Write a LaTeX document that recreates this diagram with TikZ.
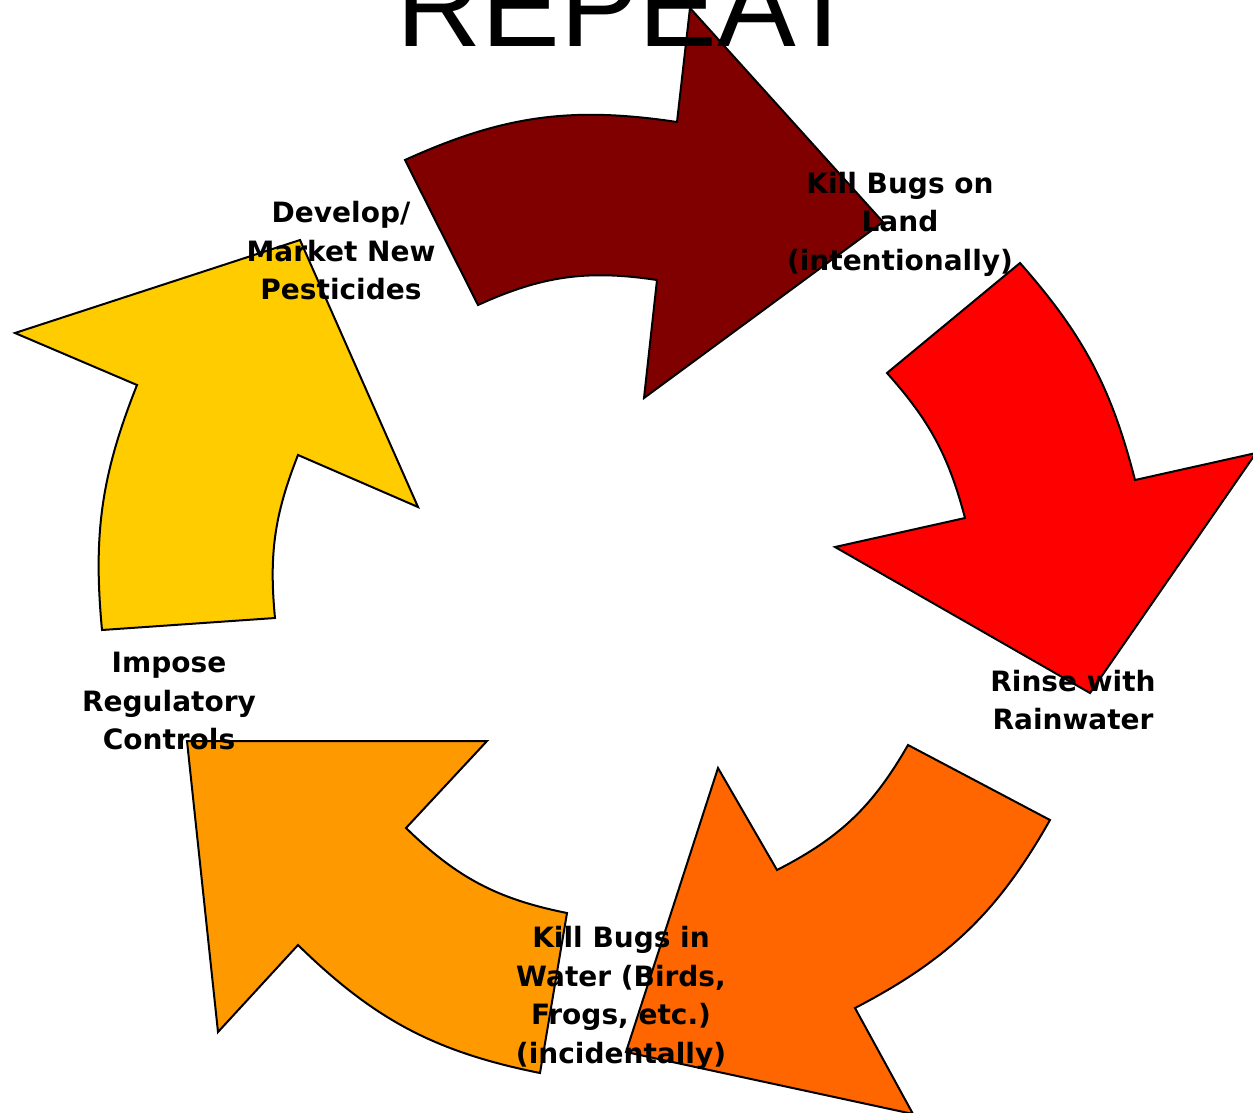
\documentclass[tikz,border=0pt]{standalone}
\usepackage{fontspec}
\setmainfont{DejaVu Sans}
\newfontfamily\titlefont{Liberation Sans}

\definecolor{landfill}{HTML}{800000}
\definecolor{rinsefill}{HTML}{FF0000}
\definecolor{waterfill}{HTML}{FF6600}
\definecolor{imposefill}{HTML}{FF9900}
\definecolor{developfill}{HTML}{FFCC00}

\begin{document}
\begin{tikzpicture}[x=1pt, y=1pt,
    cyclearrow/.style={draw=black, line width=2pt, line join=miter},
    steplabel/.style={font=\bfseries\fontsize{28}{38.5}\selectfont, align=center, inner sep=0pt}]
    \useasboundingbox (0,0) rectangle (1253,-1112);

    % arrow 1: kill bugs on land
    \coordinate (Lto) at (405,-160);
    \coordinate (Lbo) at (677,-122);
    \coordinate (Lwo) at (690,-8);
    \coordinate (Ltip) at (883,-222);
    \coordinate (Lwi) at (644,-398);
    \coordinate (Lbi) at (657,-280);
    \coordinate (Lti) at (478,-305);

    % arrow 2: rinse
    \coordinate (Rto) at (1020,-263);
    \coordinate (Rbo) at (1135,-480);
    \coordinate (Rwo) at (1256,-453);
    \coordinate (Rtip) at (1090,-693);
    \coordinate (Rwi) at (835,-547);
    \coordinate (Rbi) at (965,-518);
    \coordinate (Rti) at (887,-373);

    % arrow 3: kill bugs in water
    \coordinate (Wto) at (1050,-820);
    \coordinate (Wbo) at (855,-1008);
    \coordinate (Wwo) at (913,-1114);
    \coordinate (Wtip) at (626,-1052);
    \coordinate (Wwi) at (718,-768);
    \coordinate (Wbi) at (777,-870);
    \coordinate (Wti) at (908,-745);

    % arrow 4: regulate
    \coordinate (Ito) at (540,-1073);
    \coordinate (Ibo) at (298,-945);
    \coordinate (Iwo) at (218,-1032);
    \coordinate (Itip) at (187,-741);
    \coordinate (Iwi) at (487,-741);
    \coordinate (Ibi) at (406,-828);
    \coordinate (Iti) at (567,-913);

    % arrow 5: new pesticides
    \coordinate (Dto) at (102,-630);
    \coordinate (Dbo) at (137,-385);
    \coordinate (Dwo) at (15,-333);
    \coordinate (Dtip) at (300,-240);
    \coordinate (Dwi) at (418,-507);
    \coordinate (Dbi) at (298,-455);
    \coordinate (Dti) at (275,-618);

    \filldraw[cyclearrow, fill=landfill] (Lto) to[bend left=16.5] (Lbo) -- (Lwo) -- (Ltip) -- (Lwi) -- (Lbi) to[bend right=16.5] (Lti) -- cycle;
    \filldraw[cyclearrow, fill=rinsefill] (Rto) to[bend left=13.5] (Rbo) -- (Rwo) -- (Rtip) -- (Rwi) -- (Rbi) to[bend right=13.5] (Rti) -- cycle;
    \filldraw[cyclearrow, fill=waterfill] (Wto) to[bend left=16.5] (Wbo) -- (Wwo) -- (Wtip) -- (Wwi) -- (Wbi) to[bend right=16.5] (Wti) -- cycle;
    \filldraw[cyclearrow, fill=imposefill] (Ito) to[bend left=16.5] (Ibo) -- (Iwo) -- (Itip) -- (Iwi) -- (Ibi) to[bend right=16.5] (Iti) -- cycle;
    \filldraw[cyclearrow, fill=developfill] (Dto) to[bend left=13.5] (Dbo) -- (Dwo) -- (Dtip) -- (Dwi) -- (Dbi) to[bend right=13.5] (Dti) -- cycle;

    \node[anchor=base, inner sep=0pt, font=\titlefont\fontsize{118}{118}\selectfont] (title) at (628,-46) {REPEAT};

    \node[steplabel] (land) at (900,-224) {Kill Bugs on\\Land\\(intentionally)};
    \node[steplabel] (rinse) at (1073,-700) {Rinse with\\Rainwater};
    \node[steplabel] (water) at (621,-998) {Kill Bugs in\\Water (Birds,\\Frogs, etc.)\\(incidentally)};
    \node[steplabel] (impose) at (169,-701) {Impose\\Regulatory\\Controls};
    \node[steplabel] (develop) at (341,-251) {Develop/\\Market New\\Pesticides};
\end{tikzpicture}
\end{document}
